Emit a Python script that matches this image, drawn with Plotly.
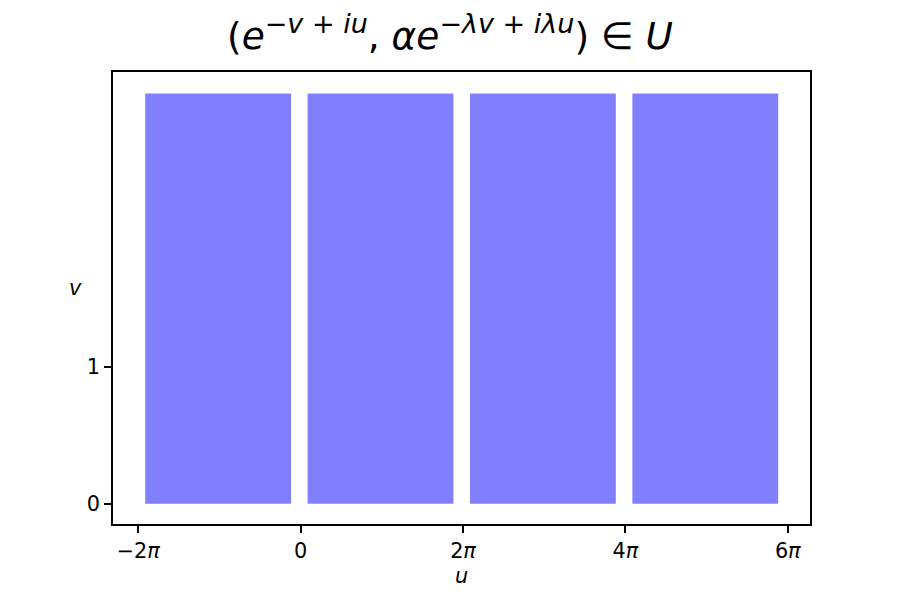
import math
import plotly.graph_objects as go

# Data: strips in the (u, v) plane
u_start = [-2 * math.pi + 0.27, 0.27, 2 * math.pi + 0.27, 4 * math.pi + 0.27]
u_end = [-0.37, 2 * math.pi - 0.37, 4 * math.pi - 0.37, 6 * math.pi - 0.37]
v_min = [0, 0, 0, 0]
v_max = [3, 3, 3, 3]

x_tickvals = [-2 * math.pi, 0, 2 * math.pi, 4 * math.pi, 6 * math.pi]
x_ticktext = ["\u22122<i>\u03c0</i>", "0", "2<i>\u03c0</i>", "4<i>\u03c0</i>", "6<i>\u03c0</i>"]
y_tickvals = [0, 1]
y_ticktext = ["0", "1"]

FONT = "DejaVu Sans"
FILL = "#8080ff"

centers = [(a + b) / 2 for a, b in zip(u_start, u_end)]
widths = [b - a for a, b in zip(u_start, u_end)]
heights = [b - a for a, b in zip(v_min, v_max)]

fig = go.Figure()
fig.add_trace(go.Bar(
    x=centers, y=heights, base=v_min, width=widths,
    marker=dict(color=FILL, line=dict(width=0)),
    hoverinfo="skip", showlegend=False,
))

axis_common = dict(
    showgrid=False, zeroline=False, showline=True, mirror=True,
    linecolor="black", linewidth=1.6,
    ticks="outside", ticklen=7, tickwidth=1.6, tickcolor="black",
    tickfont=dict(family=FONT, size=20.8, color="black"),
    automargin=False,
)

SUP = '<sup><span style="font-size:27px">{}</span></sup>'
title_text = (
    "(<i>e</i>" + SUP.format("\u2212<i>v</i> + <i>iu</i>")
    + ", <i>\u03b1e</i>" + SUP.format("\u2212<i>\u03bbv</i> + <i>i\u03bbu</i>")
    + ") \u2208 <i>U</i>"
)

fig.update_layout(
    width=900, height=600,
    margin=dict(l=105, r=98, t=64, b=84),
    paper_bgcolor="white", plot_bgcolor="white",
    font=dict(family=FONT, color="black"),
    xaxis=dict(range=[-7.26, 19.71], tickmode="array", tickvals=x_tickvals,
               ticktext=x_ticktext, ticklabelstandoff=0, **axis_common),
    yaxis=dict(range=[-0.148, 3.158], tickmode="array", tickvals=y_tickvals,
               ticktext=y_ticktext, ticklabelstandoff=0, **axis_common),
    title=dict(
        text=title_text,
        x=442 / 900, xref="container", xanchor="center",
        y=1 - 41 / 600, yref="container", yanchor="bottom",
        font=dict(family=FONT, size=37.5, color="black"),
        automargin=False,
    ),
    annotations=[
        dict(text="<i>u</i>", xref="paper", yref="paper", x=0.5, y=(524 - 576) / 452,
             xanchor="center", yanchor="middle", showarrow=False,
             font=dict(family=FONT, size=20.8, color="black")),
        dict(text="<i>v</i>", xref="paper", yref="paper", x=(75 - 113) / 697, y=(524 - 288) / 452,
             xanchor="center", yanchor="middle", showarrow=False,
             font=dict(family=FONT, size=20.8, color="black")),
    ],
)

fig.write_html("out.html")
